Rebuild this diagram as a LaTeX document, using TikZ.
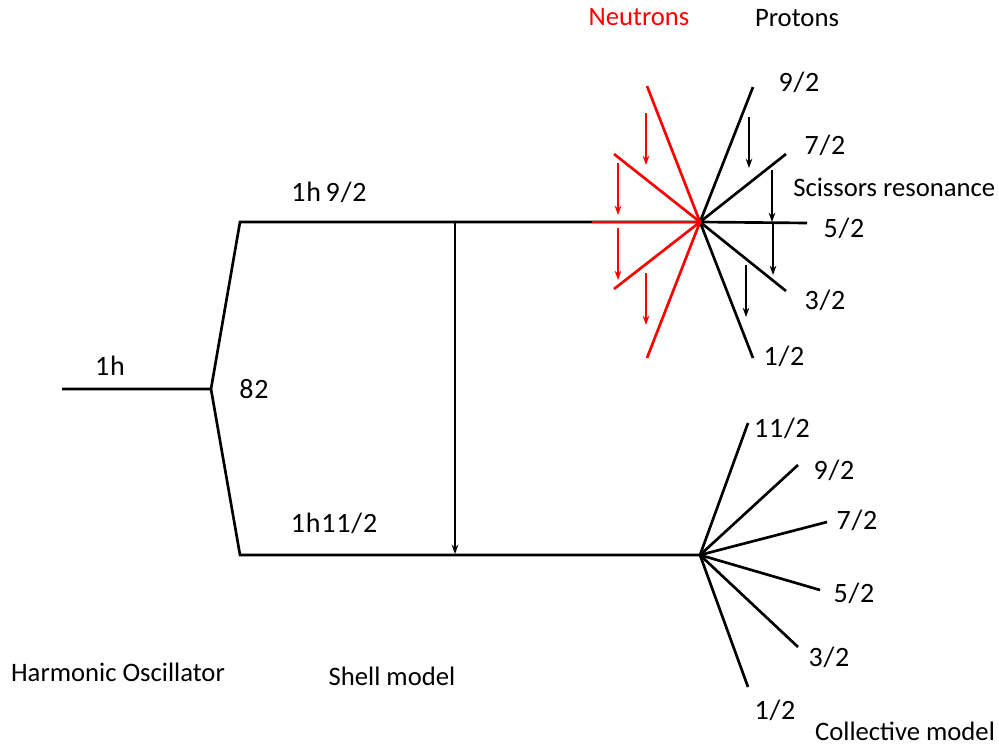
\documentclass[tikz,border=0pt]{standalone}
\usepackage{fontspec}
\setmainfont{Carlito}
\usetikzlibrary{arrows.meta}
\begin{document}
\begin{tikzpicture}[x=0.75pt,y=-0.75pt,
  level/.style={line width=2pt,black},
  redlevel/.style={line width=2pt,red},
  trans/.style={line width=0.9pt,-{Stealth[length=7pt,width=5pt]}},
  lbl/.style={inner sep=0pt,font=\fontsize{20}{24}\selectfont},
  frac/.style={inner sep=0pt,font=\fontsize{21}{25}\selectfont\addfontfeature{LetterSpace=3}}]
\useasboundingbox (0,0) rectangle (999,745);

% key points of the level scheme
\coordinate (hO) at (62,389);
\coordinate (hE) at (211,389);
\coordinate (up) at (240,222);
\coordinate (lo) at (240,555);
\coordinate (cT) at (700,222);
\coordinate (cB) at (700,555);
\coordinate (rS) at (592,222);

% harmonic oscillator level and spin-orbit splitting
\draw[level] (hO) -- (hE) -- (up) -- (cT);
\draw[level] (hE) -- (lo) -- (cB);

% shell-model transition
\coordinate (tA) at (455,222);
\coordinate (tB) at (455,554);
\draw[trans] (tA) -- (tB);

% proton fan of the upper level
\coordinate (p9) at (753,87);
\coordinate (p7) at (786,154);
\coordinate (p5) at (807,223);
\coordinate (p3) at (786,291);
\coordinate (p1) at (753,358);
\foreach \e in {p9,p7,p5,p3,p1} \draw[level] (cT) -- (\e);

% neutron fan of the upper level
\coordinate (n9) at (647,86);
\coordinate (n7) at (614,154);
\coordinate (n3) at (614,289);
\coordinate (n1) at (647,358);
\draw[redlevel] (rS) -- (cT);
\foreach \e in {n9,n7,n3,n1} \draw[redlevel] (cT) -- (\e);

% scissors transitions, neutrons
\foreach \x/\ya/\yb in {646/113/165, 618/163/215, 618/228/280, 646/273/325}{
  \coordinate (ra) at (\x,\ya); \coordinate (rb) at (\x,\yb);
  \draw[trans,red] (ra) -- (rb);}
% scissors transitions, protons
\foreach \x/\ya/\yb in {749/117/168, 772/170/222, 773/223/275, 746/265/317}{
  \coordinate (ba) at (\x,\ya); \coordinate (bb) at (\x,\yb);
  \draw[trans] (ba) -- (bb);}

% collective fan of the lower level
\coordinate (q11) at (748,423);
\coordinate (q9) at (798,465);
\coordinate (q7) at (827,522);
\coordinate (q5) at (820,590);
\coordinate (q3) at (798,647);
\coordinate (q1) at (748,687);
\foreach \e in {q11,q9,q7,q5,q3,q1} \draw[level] (cB) -- (\e);

% labels
\node[lbl,red] (neu) at (639,17) {Neutrons};
\node[lbl] (pro) at (797,18) {Protons};
\node[frac] (l9) at (799,82) {9/2};
\node[frac] (l7) at (825,145) {7/2};
\node[lbl,anchor=west] (sci) at (793,187) {Scissors resonance};
\node[frac] (l5) at (844,228) {5/2};
\node[frac] (l3) at (825,300) {3/2};
\node[frac] (l1) at (784,356) {1/2};

\node[frac] (k11) at (782,428) {11/2};
\node[frac] (k9) at (834,470) {9/2};
\node[frac] (k7) at (857,520) {7/2};
\node[frac] (k5) at (854,593) {5/2};
\node[frac] (k3) at (829,657) {3/2};
\node[frac] (k1) at (775,710) {1/2};
\node[lbl] (col) at (905,731) {Collective model};

\node[frac] (h) at (110,366) {1h};
\node[frac] (n82) at (254,389) {82};
\node[frac] (h9) at (329,192) {1h\hspace{3.5pt}9/2};
\node[frac] (h11) at (334,523) {1h11/2};
\node[lbl] (ho) at (118,672) {Harmonic Oscillator};
\node[lbl] (sm) at (392,676) {Shell model};
\end{tikzpicture}
\end{document}
